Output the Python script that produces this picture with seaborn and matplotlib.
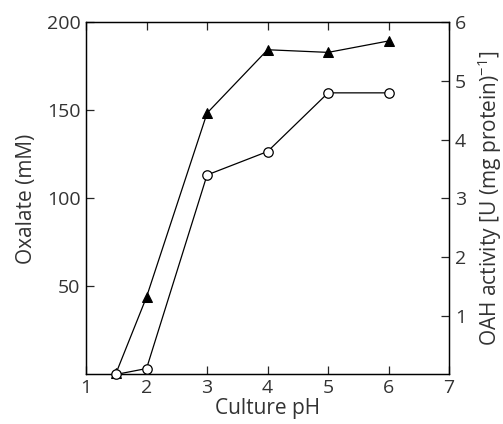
import matplotlib
matplotlib.use("Agg")
import matplotlib.pyplot as plt
import seaborn as sns
import pandas as pd

ph = [1.5, 2, 3, 4, 5, 6]
oxalate = [1, 44, 148.5, 184.5, 183, 189.5]
oah_activity = [0.0, 0.1, 3.4, 3.8, 4.8, 4.8]

x_ticks = [1, 2, 3, 4, 5, 6, 7]
left_ticks = [50, 100, 150, 200]
right_ticks = [1, 2, 3, 4, 5, 6]

sns.set_style("ticks")
plt.rcParams['font.family'] = ['Open Sans', 'DejaVu Sans']
plt.rcParams['mathtext.fontset'] = 'custom'
plt.rcParams['mathtext.rm'] = 'Open Sans'
plt.rcParams['mathtext.it'] = 'Open Sans'
txt = '#333333'

df = pd.DataFrame({'ph': ph, 'oxalate': oxalate, 'oah': oah_activity})

fig, ax = plt.subplots(figsize=(5.03, 4.24), dpi=100)
fig.subplots_adjust(left=0.171, right=0.893, top=0.947, bottom=0.117)
ax2 = ax.twinx()

sns.lineplot(data=df, x='ph', y='oxalate', ax=ax, color='black', marker='^',
             markersize=7.5, markerfacecolor='black', markeredgecolor='black',
             linewidth=0.9, clip_on=False, zorder=5)
sns.lineplot(data=df, x='ph', y='oah', ax=ax2, color='black', marker='o',
             markersize=6.8, markerfacecolor='white', markeredgecolor='black',
             markeredgewidth=0.9, linewidth=0.9, clip_on=False, zorder=5)

ax.set_xlim(1, 7)
ax.set_ylim(0, 200)
ax2.set_ylim(0, 6)
ax.set_xticks(x_ticks)
ax.set_xticklabels([str(v) for v in x_ticks])
ax.set_yticks(left_ticks)
ax.set_yticklabels([str(v) for v in left_ticks])
ax2.set_yticks(right_ticks)
ax2.set_yticklabels([str(v) for v in right_ticks])

fs = 14
lfs = 15
ax.tick_params(axis='x', bottom=True, top=True, direction='in', length=6,
               width=0.9, labelsize=fs, labelcolor=txt, pad=3)
ax.tick_params(axis='y', direction='in', length=6, width=0.9,
               labelsize=fs, labelcolor=txt, pad=4)
ax2.tick_params(axis='y', direction='in', length=6, width=0.9,
                labelsize=fs, labelcolor=txt, pad=4)

for a in (ax, ax2):
    for s in a.spines.values():
        s.set_visible(True)
        s.set_linewidth(0.9)
        s.set_color('black')

ax.set_xlabel('Culture pH', fontsize=lfs, color=txt, labelpad=1)
ax.set_ylabel('Oxalate (mM)', fontsize=lfs, color=txt, labelpad=7)
ax2.set_ylabel('OAH activity [U (mg protein)$^{-1}$]', fontsize=lfs,
               color=txt, labelpad=7)

fig.savefig('out.png', dpi=100)
